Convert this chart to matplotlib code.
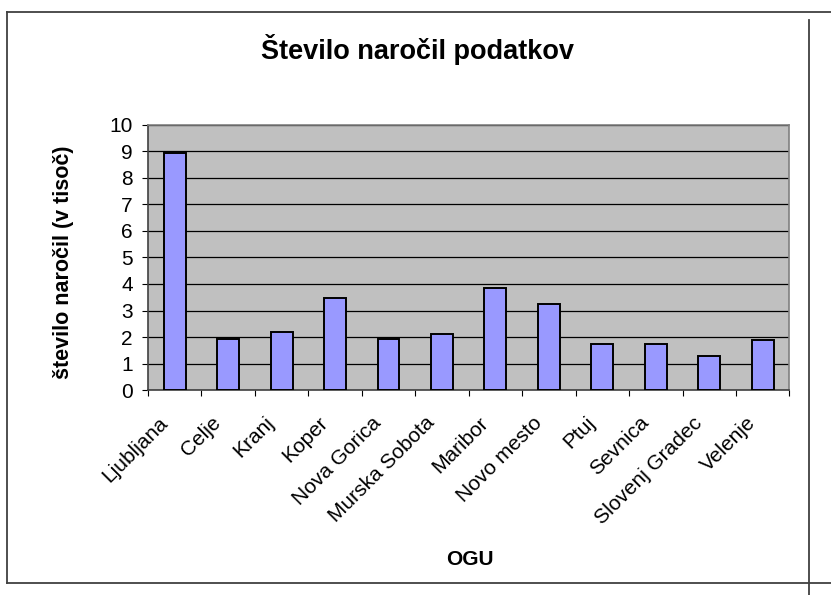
import matplotlib.pyplot as plt
import matplotlib.transforms as mtransforms
from matplotlib.lines import Line2D

plt.rcParams['font.family'] = ['Liberation Sans', 'DejaVu Sans']

# Data
ogu = ['Ljubljana', 'Celje', 'Kranj', 'Koper', 'Nova Gorica', 'Murska Sobota',
       'Maribor', 'Novo mesto', 'Ptuj', 'Sevnica', 'Slovenj Gradec', 'Velenje']
narocila = [8.93, 1.91, 2.2, 3.47, 1.91, 2.12, 3.86, 3.26, 1.74, 1.74, 1.29, 1.9]
y_ticks = list(range(0, 11))

fig = plt.figure(figsize=(8.31, 5.95), dpi=100)
ax = fig.add_axes([0.178, 0.3445, 0.772, 0.4455])

x = range(len(ogu))
ax.bar(x, narocila, width=0.41, color='#9999FF', edgecolor='black', linewidth=1.4, zorder=3)

ax.set_facecolor('#C0C0C0')
ax.set_xlim(-0.5, len(ogu) - 0.5)
ax.set_ylim(0, 10)
ax.set_yticks(y_ticks)
ax.yaxis.grid(True, color='black', linewidth=0.9, zorder=1)
ax.tick_params(axis='y', labelsize=15, length=4.5, direction='out', pad=6.5)

# category labels at centres, tick marks at boundaries
ax.set_xticks([i - 0.5 for i in range(len(ogu) + 1)])
ax.set_xticklabels([])
ax.tick_params(axis='x', length=4.5, direction='out')
ax.set_xticks(list(x), minor=True)
ax.set_xticklabels(ogu, minor=True, rotation=45, ha='right', va='center',
                   rotation_mode='anchor', fontsize=15)
ax.tick_params(axis='x', which='minor', length=0, pad=21.5)
shift = mtransforms.ScaledTranslation(-10 / 100, 0, fig.dpi_scale_trans)
for lab in ax.get_xticklabels(minor=True):
    lab.set_transform(lab.get_transform() + shift)

for s in ['top', 'right']:
    ax.spines[s].set_color('#808080')
for s in ['left', 'bottom']:
    ax.spines[s].set_color('#404040')
for s in ax.spines.values():
    s.set_linewidth(1.2)

fig.text(0.502, 0.916, 'Število naročil podatkov', ha='center', va='center',
         fontsize=19.5, fontweight='bold')
fig.text(0.076, 0.56, 'število naročil (v tisoč)', ha='center', va='center',
         rotation=90, fontsize=15.5, fontweight='bold')
fig.text(0.565, 0.06, 'OGU', ha='center', va='center', fontsize=15, fontweight='bold')

# outer chart frame
kw = dict(color='#404040', linewidth=1.3, transform=fig.transFigure)
fig.add_artist(Line2D([0.0085, 1.0], [0.98, 0.98], **kw))
fig.add_artist(Line2D([0.0085, 0.0085], [0.98, 0.02], **kw))
fig.add_artist(Line2D([0.0085, 1.0], [0.02, 0.02], **kw))
fig.add_artist(Line2D([0.9735, 0.9735], [0.966, 0.0], **kw))

fig.savefig('out.png', dpi=100)
